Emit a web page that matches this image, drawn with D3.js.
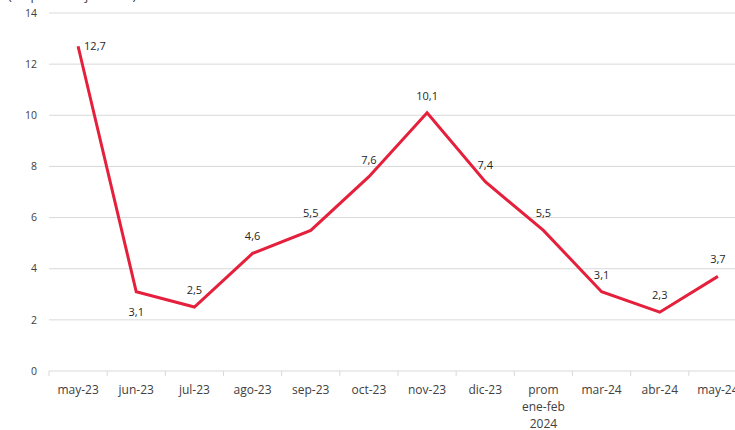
<!DOCTYPE html>
<html>
<head>
<meta charset="utf-8">
<script src="https://cdn.jsdelivr.net/npm/d3@7"></script>
<style>
body{margin:0;background:#fff;}
text{font-family:"Open Sans",sans-serif;}
</style>
</head>
<body>
<div id="chart"></div>
<script>
const categories=["may-23","jun-23","jul-23","ago-23","sep-23","oct-23","nov-23","dic-23","prom\nene-feb\n2024","mar-24","abr-24","may-24"];
const values=[12.7,3.1,2.5,4.6,5.5,7.6,10.1,7.4,5.5,3.1,2.3,3.7];
// label placement: r = right, b = below, t = above
const labelPos=["r","b","t","t","t","t","t","t","t","t","t","t"];
const yTicks=[0,2,4,6,8,10,12,14];

const W=735,H=430;
const svg=d3.select("#chart").append("svg")
    .attr("width",W).attr("height",H);

const x=d3.scaleBand()
    .domain(categories)
    .range([49,747]);
const y=d3.scaleLinear()
    .domain([0,14])
    .range([371,13]);

// cropped unit label at top
svg.append("text")
    .attr("x",8).attr("y",0)
    .attr("font-size",13).attr("fill","#404040")
    .text("(en porcentaje anual)");

// gridlines
svg.append("g")
    .selectAll("line")
    .data(yTicks.filter(d=>d>0))
    .join("line")
    .attr("x1",49).attr("x2",W)
    .attr("y1",d=>y(d)).attr("y2",d=>y(d))
    .attr("stroke","#d9d9d9").attr("stroke-width",1);

// y labels
svg.append("g")
    .selectAll("text")
    .data(yTicks)
    .join("text")
    .attr("x",37).attr("y",d=>y(d))
    .attr("dy","0.35em")
    .attr("text-anchor","end")
    .attr("font-size",10.5).attr("fill","#404040")
    .text(d=>d);

// x axis
const xAxis=svg.append("g");
xAxis.append("line")
    .attr("x1",49).attr("x2",W)
    .attr("y1",y(0)).attr("y2",y(0))
    .attr("stroke","#d9d9d9");
xAxis.selectAll(".tk")
    .data(categories)
    .join("line")
    .attr("class","tk")
    .attr("x1",d=>x(d)).attr("x2",d=>x(d))
    .attr("y1",y(0)).attr("y2",y(0)+5)
    .attr("stroke","#d9d9d9");
xAxis.selectAll(".lbl")
    .data(categories)
    .join("text")
    .attr("class","lbl")
    .attr("text-anchor","middle")
    .attr("font-size",12).attr("fill","#404040")
    .each(function(d){
        const t=d3.select(this);
        d.split("\n").forEach((s,i)=>{
            t.append("tspan")
                .attr("x",x(d)+x.bandwidth()/2)
                .attr("y",394+i*17)
                .text(s);
        });
    });

// line
const pts=categories.map((c,i)=>({c:c,v:values[i],p:labelPos[i]}));
svg.append("path")
    .datum(pts)
    .attr("fill","none")
    .attr("stroke","#e5203c")
    .attr("stroke-width",3)
    .attr("stroke-linejoin","miter")
    .attr("d",d3.line()
        .x(d=>x(d.c)+x.bandwidth()/2)
        .y(d=>y(d.v)));

// data labels
svg.append("g")
    .selectAll("text")
    .data(pts)
    .join("text")
    .attr("font-size",11).attr("fill","#262626")
    .attr("text-anchor",d=>d.p=="r"?"start":"middle")
    .attr("x",d=>x(d.c)+x.bandwidth()/2+(d.p=="r"?6:0))
    .attr("y",d=>d.p=="r"?y(d.v):d.p=="b"?y(d.v)+20:y(d.v)-17)
    .attr("dy","0.35em")
    .text(d=>String(d.v).replace(".",","));
</script>
</body>
</html>
